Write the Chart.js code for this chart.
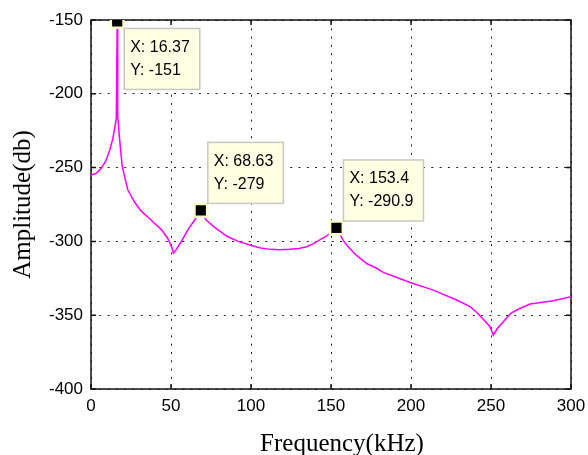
<!DOCTYPE html>
<html>
<head>
<meta charset="utf-8">
<script src="https://cdn.jsdelivr.net/npm/chart.js@4"></script>
<style>
  body { margin: 0; background: #fff; }
  #wrap { width: 588px; height: 455px; position: relative; }
</style>
</head>
<body>
<div id="wrap"><canvas id="ampChart"></canvas></div>
<script>
// frequency (kHz) and amplitude (db)
const freq = [0, 3, 6, 9, 11.5, 13.5, 15, 15.8, 16.37, 16.7, 17.5, 18.5, 19.5, 21, 23, 27, 31, 36, 40, 44, 48, 50.5, 51.5, 53, 56.5, 60.6, 64.8, 68.63, 70, 72, 77.3, 85, 92, 99.4, 106, 112, 118, 124, 130, 134.8, 139, 143, 147, 150, 152, 153.4, 155, 157.7, 161, 166, 172.3, 178.5, 182.7, 190, 199.4, 214, 228.5, 236.9, 241, 245, 249.4, 251.4, 254, 257.7, 262, 266, 274.4, 289, 300];
const amp = [-255, -254, -251, -246, -239, -231, -222, -217, -151, -215, -226, -238, -249, -256, -265, -273, -279, -284, -288, -292, -298, -304, -308, -306, -300, -292, -285.5, -279, -282, -285.5, -290.5, -296.5, -300, -302.5, -304.5, -305.4, -305.6, -305.4, -304.8, -303.6, -301.5, -299, -296.5, -294, -292, -290.9, -294, -299.5, -304, -309.5, -315, -318.2, -321, -324, -327.8, -333, -339.7, -344.2, -348, -352.5, -357.8, -363.4, -359, -354.4, -349, -346.5, -342.4, -340.2, -337.5];

// data tips
const tipX = [16.37, 68.63, 153.4];
const tipY = [-151, -279, -290.9];
const tipText = [['X: 16.37', 'Y: -151'], ['X: 68.63', 'Y: -279'], ['X: 153.4', 'Y: -290.9']];
const tipPlace = ['below', 'above', 'above'];

const xTicks = [0, 50, 100, 150, 200, 250, 300];
const yTicks = [-400, -350, -300, -250, -200, -150];
const xTitle = 'Frequency(kHz)';

Chart.defaults.font.family = 'Liberation Sans';
Chart.defaults.color = '#000';

const framePlugin = {
    id: 'frame',
    beforeDatasetsDraw(chart) {
        const { ctx, chartArea: a, scales } = chart;
        ctx.save();
        ctx.strokeStyle = '#111';
        ctx.lineWidth = 1.5;
        ctx.strokeRect(a.left, a.top, a.right - a.left, a.bottom - a.top);
        ctx.beginPath();
        xTicks.forEach(v => {
            const px = scales.x.getPixelForValue(v);
            ctx.moveTo(px, a.bottom); ctx.lineTo(px, a.bottom - 5);
            ctx.moveTo(px, a.top); ctx.lineTo(px, a.top + 5);
        });
        yTicks.forEach(v => {
            const py = scales.y.getPixelForValue(v);
            ctx.moveTo(a.left, py); ctx.lineTo(a.left + 5, py);
            ctx.moveTo(a.right, py); ctx.lineTo(a.right - 5, py);
        });
        ctx.stroke();

        // x axis label, sits a little right of centre like the original
        ctx.font = '25px "Liberation Serif"';
        ctx.fillStyle = '#000';
        ctx.textAlign = 'center';
        ctx.textBaseline = 'alphabetic';
        ctx.fillText(xTitle, (a.left + a.right) / 2 + 11, 451);
        ctx.restore();
    }
};

const tipPlugin = {
    id: 'datatips',
    afterDatasetsDraw(chart) {
        const { ctx, scales } = chart;
        ctx.save();
        ctx.font = '16px "Liberation Sans"';
        ctx.textBaseline = 'middle';
        tipX.forEach((v, i) => {
            const mx = scales.x.getPixelForValue(v);
            const my = scales.y.getPixelForValue(tipY[i]);
            const lines = tipText[i];
            const w = Math.max(...lines.map(t => ctx.measureText(t).width)) + 16;
            const h = 61;
            const left = mx + 7;
            const top = tipPlace[i] === 'below' ? my + 7 : my - 7 - h;
            ctx.fillStyle = '#ffffe4';
            ctx.fillRect(left, top, w, h);
            ctx.strokeStyle = '#c8c8c0';
            ctx.lineWidth = 1.5;
            ctx.strokeRect(left, top, w, h);
            ctx.fillStyle = '#000';
            lines.forEach((t, j) => ctx.fillText(t, left + 6, top + 19 + j * 23));
        });
        ctx.restore();
    }
};

const ampChart = new Chart(document.getElementById('ampChart'), {
    type: 'line',
    data: {
        datasets: [{
            label: 'tips',
            data: tipX.map((v, i) => ({ x: v, y: tipY[i] })),
            showLine: false,
            pointStyle: 'rect',
            pointRadius: 9,
            pointBackgroundColor: '#000',
            pointBorderColor: '#ffffc8',
            pointBorderWidth: 2.5
        }, {
            label: 'Amplitude',
            data: freq.map((v, i) => ({ x: v, y: amp[i] })),
            borderColor: '#ff00ff',
            borderWidth: 1.5,
            pointRadius: 0,
            tension: 0
        }]
    },
    options: {
        responsive: true,
        maintainAspectRatio: false,
        animation: false,
        layout: {
            padding: { left: 0, right: 17, top: 20, bottom: 0 }
        },
        scales: {
            x: {
                type: 'linear',
                min: 0,
                max: 300,
                afterFit: s => {
                    s.height = 66;
                    s.paddingLeft = 0;
                    s.paddingRight = 0;
                },
                grid: {
                    color: '#222',
                    drawTicks: false
                },
                border: {
                    display: false,
                    dash: [2, 6.3]
                },
                ticks: {
                    stepSize: 50,
                    padding: 7,
                    maxRotation: 0,
                    font: { size: 17 }
                }
            },
            y: {
                min: -400,
                max: -150,
                afterFit: s => {
                    s.width = 91;
                    s.paddingTop = 0;
                    s.paddingBottom = 0;
                },
                grid: {
                    color: '#222',
                    drawTicks: false
                },
                border: {
                    display: false,
                    dash: [2, 6.3]
                },
                ticks: {
                    stepSize: 50,
                    padding: 8,
                    font: { size: 17 }
                },
                title: {
                    display: true,
                    text: 'Amplitude(db)',
                    font: { family: 'Liberation Serif', size: 25 },
                    padding: { top: 8, bottom: 0 }
                }
            }
        },
        plugins: {
            legend: {
                display: false,
            },
            tooltip: {
                enabled: false
            }
        }
    },
    plugins: [framePlugin, tipPlugin]
});
</script>
</body>
</html>
